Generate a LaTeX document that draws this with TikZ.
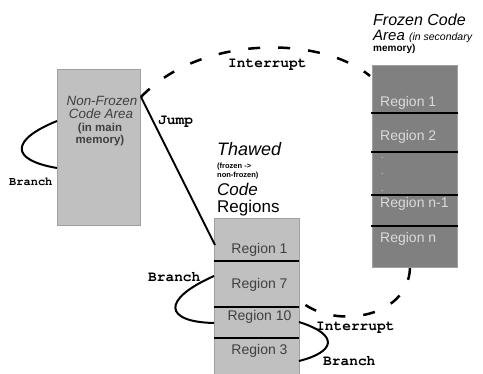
\documentclass[tikz,border=0pt]{standalone}
\usepackage[T1]{fontenc}
\usepackage{fontspec}
\setmainfont{Liberation Sans}
\newcommand{\cour}{\fontencoding{T1}\fontfamily{pcr}\fontseries{b}\selectfont}
\definecolor{lightbox}{HTML}{C0C0C0}
\definecolor{darkbox}{HTML}{808080}
\definecolor{boxedge}{HTML}{A0A0A0}
\definecolor{lighttext}{HTML}{DADADA}
\definecolor{darktext}{HTML}{404040}
\newcommand{\fs}[1]{\fontsize{#1}{#1}\selectfont}
\begin{document}
\begin{tikzpicture}[x=1pt,y=-1pt,
  lbox/.style={fill=lightbox, draw=boxedge, line width=0.8pt, inner sep=0, outer sep=0, anchor=north west},
  dbox/.style={fill=darkbox, draw=boxedge, line width=0.5pt, inner sep=0, outer sep=0, anchor=north west},
  lbl/.style={font=\cour\fs{14.5}, inner sep=0, anchor=base west},
  txt/.style={inner sep=0, anchor=base west},
  sep/.style={line width=1.6pt, black},
  conn/.style={line width=2pt, black},
  dconn/.style={line width=2.5pt, black, dash pattern=on 12pt off 18pt},
]
\useasboundingbox (0,0) rectangle (483,373);

% boxes
\node[lbox, minimum width=83pt, minimum height=156pt] (nf) at (57,69) {};
\node[lbox, minimum width=85pt, minimum height=160pt] (th) at (214,218) {};
\node[dbox, minimum width=85pt, minimum height=202pt] (fz) at (372,65) {};

% separators
\foreach \y in {261,307,338} \draw[sep] (214,\y) -- (299,\y);
\foreach \y in {113,152,195,226} \draw[sep] (371,\y) -- (458,\y);

% non-frozen text
\node[inner sep=0, anchor=base, font=\itshape\fs{13.4}, text=darktext] (nf1) at (102,105) {Non-Frozen};
\node[inner sep=0, anchor=base, font=\itshape\fs{13.4}, text=darktext] (nf2) at (101,118) {Code Area};
\node[inner sep=0, anchor=base, font=\bfseries\fs{11.5}, text=darktext] (nf3) at (100,131) {(in main};
\node[inner sep=0, anchor=base, font=\bfseries\fs{11.5}, text=darktext] (nf4) at (100,143) {memory)};

% thawed title
\node[txt, font=\itshape\fs{18}] (t1) at (217,155) {Thawed};
\node[txt, font=\bfseries\fs{7.5}] (t2) at (217,168.5) {(frozen ->};
\node[txt, font=\bfseries\fs{7.5}] (t3) at (217,177.5) {non-frozen)};
\node[txt, font=\itshape\fs{17}] (t4) at (217,195) {Code};
\node[txt, font=\fs{17}] (t5) at (217,212.5) {Regions};

% thawed regions
\foreach \n/\t/\y in {r1/Region 1/253, r7/Region 7/288, r10/Region 10/320, r3/Region 3/354}
  \node[inner sep=0, anchor=base, font=\fs{14}, text=darktext] (\n) at (259.5,\y) {\t};

% frozen title
\node[txt, font=\itshape\fs{16}] (f1) at (373,25) {Frozen Code};
\node[txt, font=\fs{15}] (f2) at (373,40) {\textit{Area} {\fs{10.5}\textit{(in secondary}}};
\node[txt, font=\bfseries\fs{10}] (f3) at (373,51) {memory)};

% frozen regions
\foreach \n/\t/\y in {q1/Region 1/106, q2/Region 2/140, qn1/Region n-1/207, qn/Region n/242}
  \node[txt, font=\fs{14}, text=lighttext] (\n) at (380,\y) {\t};
\foreach \y in {158,174,191}
  \node[txt, font=\fs{9}, text=lighttext] at (381,\y) {.};

% connector endpoints
\coordinate (jA) at (141,97);
\coordinate (jB) at (215,245);
\coordinate (fzA) at (370,76);
\coordinate (fzB) at (410,268);
\coordinate (thA) at (298,299);
\coordinate (nfA) at (57,121);
\coordinate (nfB) at (57,168);
\coordinate (thB) at (214,276);
\coordinate (thC) at (214,323);
\coordinate (thD) at (299,322);
\coordinate (thE) at (299,361);

% connectors
\draw[conn] (jA) -- (jB);
\draw[dconn] (jA) .. controls (200,35) and (320,35) .. (fzA);
\draw[dconn] (fzB) .. controls (408,320) and (330,330) .. (thA);
\draw[conn] (nfA) .. controls (10,140) and (10,160) .. (nfB);
\draw[conn] (thB) .. controls (160,300) and (165,322) .. (thC);
\draw[conn] (thD) .. controls (340,335) and (335,352) .. (thE);

% labels
\node[lbl, font=\cour\fs{12}] (lb1) at (9,185) {Branch};
\node[lbl] (lj) at (158,124) {Jump};
\node[lbl] (li1) at (228,67) {Interrupt};
\node[lbl] (lb2) at (148,281) {Branch};
\node[lbl] (li2) at (316,330) {Interrupt};
\node[lbl] (lb3) at (323,365) {Branch};
\end{tikzpicture}
\end{document}
